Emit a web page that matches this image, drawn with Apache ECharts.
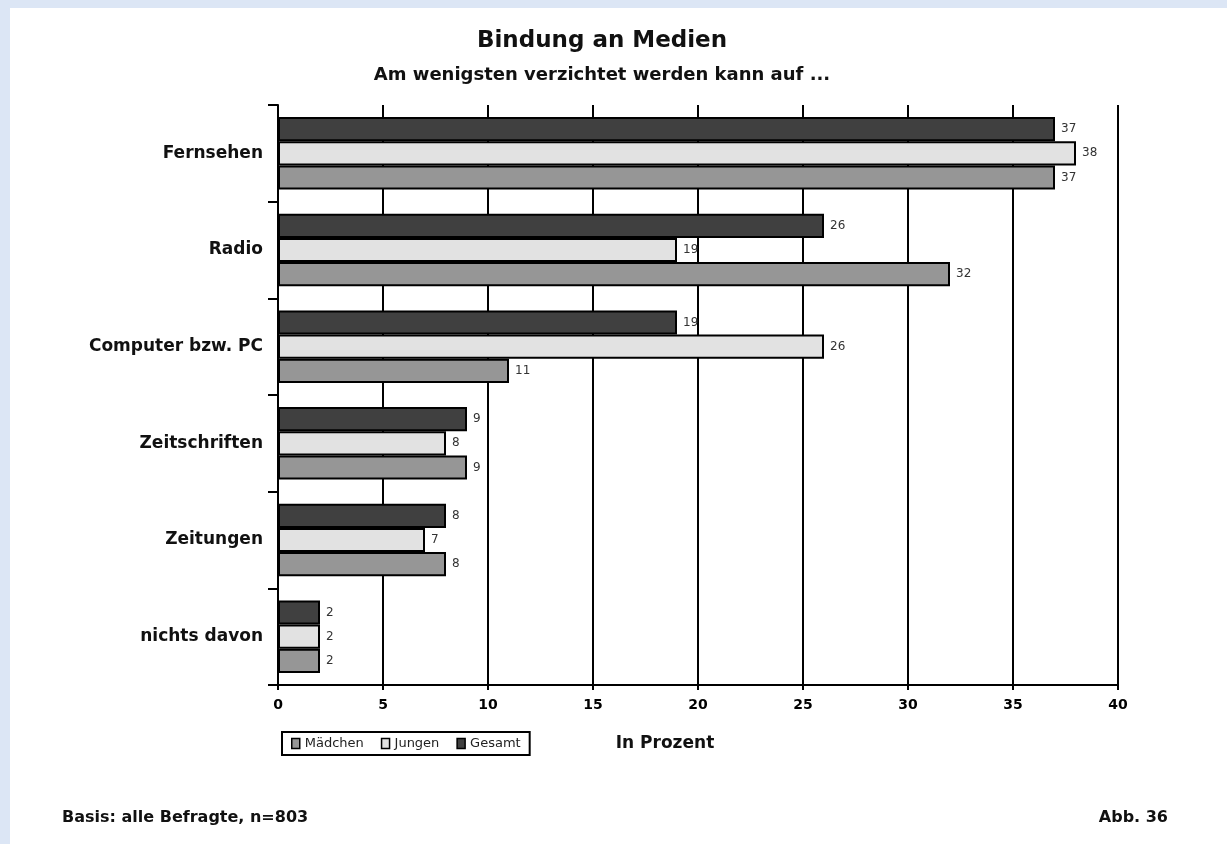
<!DOCTYPE html>
<html>
<head>
<meta charset="utf-8">
<script src="https://cdn.jsdelivr.net/npm/echarts@6/dist/echarts.min.js"></script>
<style>
  html, body { margin: 0; padding: 0; background: #ffffff; }
  #chart { width: 1227px; height: 844px; }
</style>
</head>
<body>
<div id="chart"></div>
<script>
// Media categories, top to bottom
const categories = ['Fernsehen', 'Radio', 'Computer bzw. PC', 'Zeitschriften', 'Zeitungen', 'nichts davon'];
// Shares in percent
const gesamt  = [37, 26, 19, 9, 8, 2];
const jungen  = [38, 19, 26, 8, 7, 2];
const maedchen = [37, 32, 11, 9, 8, 2];
const xTicks = { min: 0, max: 40, interval: 5 };

const FONT = '"DejaVu Sans", Verdana, sans-serif';

function barSeries(name, data, color) {
  return {
    name: name,
    type: 'bar',
    data: data,
    barGap: '0%',
    barCategoryGap: '25%',
    itemStyle: { color: color, borderColor: '#000', borderWidth: 2 },
    label: {
      show: true,
      position: 'right',
      distance: 6,
      fontFamily: FONT,
      fontSize: 12,
      color: '#333'
    }
  };
}

function titleText(text, left, top, size, align) {
  return {
    text: text, left: left, top: top, padding: 0, textAlign: align || 'left',
    textStyle: { fontFamily: FONT, fontSize: size, fontWeight: 'bold', color: '#111' }
  };
}

const chart = echarts.init(document.getElementById('chart'), null, { renderer: 'canvas' });
chart.setOption({
  backgroundColor: '#ffffff',
  animation: false,
  title: [
    titleText('Bindung an Medien', 602, 30, 23, 'center'),
    titleText('Am wenigsten verzichtet werden kann auf ...', 602, 66, 18, 'center'),
    titleText('In Prozent', 665, 735, 17, 'center'),
    titleText('Basis: alle Befragte, n=803', 62, 810, 16),
    titleText('Abb. 36', 1168, 810, 16, 'right')
  ],
  legend: {
    data: ['Mädchen', 'Jungen', 'Gesamt'],
    left: 282, top: 732,
    orient: 'horizontal',
    icon: 'rect',
    itemWidth: 8, itemHeight: 10, itemGap: 17,
    padding: [5, 9, 5, 9],
    borderColor: '#000', borderWidth: 2,
    backgroundColor: '#fff',
    selectedMode: false,
    itemStyle: { borderColor: '#000', borderWidth: 1.5 },
    textStyle: { fontFamily: FONT, fontSize: 13, color: '#222', padding: [0, 0, 0, 0] }
  },
  grid: { left: 278, right: 109, top: 105, bottom: 159, containLabel: false },
  xAxis: {
    type: 'value',
    min: xTicks.min, max: xTicks.max, interval: xTicks.interval,
    axisLine: { show: true, lineStyle: { color: '#000', width: 2 } },
    axisTick: { show: true, length: 5, lineStyle: { color: '#000', width: 2 } },
    splitLine: { show: true, lineStyle: { color: '#000', width: 2 } },
    axisLabel: { fontFamily: FONT, fontSize: 14, fontWeight: 'bold', color: '#000', margin: 13 }
  },
  yAxis: {
    type: 'category',
    data: categories,
    inverse: true,
    axisLine: { show: true, lineStyle: { color: '#000', width: 2 } },
    axisTick: { show: true, length: 10, lineStyle: { color: '#000', width: 2 } },
    axisLabel: { fontFamily: FONT, fontSize: 17, fontWeight: 'bold', color: '#111', margin: 15 }
  },
  series: [
    barSeries('Gesamt', gesamt, '#404040'),
    barSeries('Jungen', jungen, '#e2e2e2'),
    barSeries('Mädchen', maedchen, '#969696')
  ],
  graphic: [
    { type: 'rect', shape: { x: 0, y: 0, width: 1227, height: 8 }, style: { fill: '#dce6f5' }, silent: true },
    { type: 'rect', shape: { x: 0, y: 0, width: 10, height: 844 }, style: { fill: '#dce6f5' }, silent: true }
  ]
});
</script>
</body>
</html>
